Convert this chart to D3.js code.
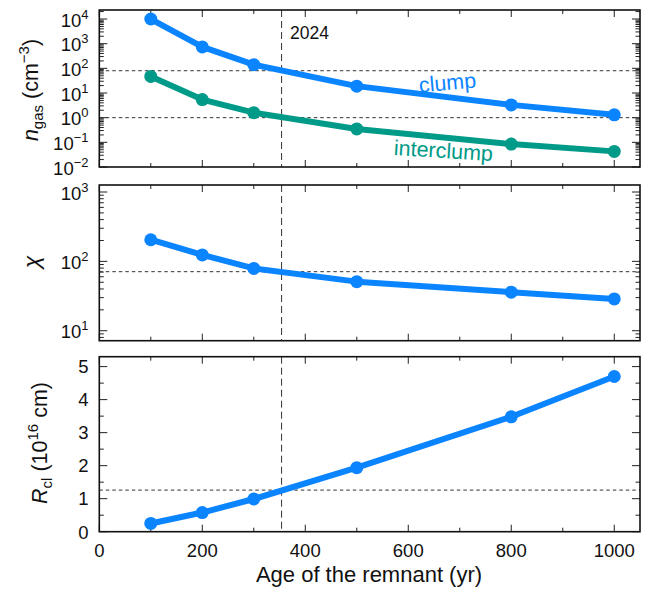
<!DOCTYPE html>
<html><head><meta charset="utf-8">
<script src="https://cdn.jsdelivr.net/npm/d3@7"></script>
<style>
html,body{margin:0;padding:0;background:#fff;}
svg{display:block;font-family:"Liberation Sans",Arial,Helvetica,sans-serif;}
</style></head>
<body><svg id="c" width="654" height="591"></svg>
<script>
// ---- data ----
const ages = [100, 200, 300, 500, 800, 1000];
const nClump = [1e4, 740, 141, 19, 3.3, 1.3];
const nInter = [47, 5.4, 1.6, 0.35, 0.085, 0.043];
const chiVals = [205, 124, 79, 51, 36, 28.7];
const rclVals = [0.25, 0.58, 0.99, 1.94, 3.48, 4.7];
const refN = [80, 1.0];
const refChi = [71];
const refR = [1.26];
const epochAge = 354;
const epochLabel = "2024";
const xTicks = [0, 200, 400, 600, 800, 1000];
const rTicks = [0, 1, 2, 3, 4, 5];
const nDecades = [-2, -1, 0, 1, 2, 3, 4];
const chiDecades = [1, 2, 3];

const BLUE = "#0a84ff", TEAL = "#009a88";
const svg = d3.select("#c");
const L = 99.3, R = 640;
const x = d3.scaleLinear().domain([0, 1050]).range([L, R]);

const panels = [
  {y: d3.scaleLog().domain([0.01, 23200]).range([167, 10]), top: 10, bot: 167, log: true, decades: nDecades},
  {y: d3.scaleLog().domain([7.18, 1262]).range([340.7, 185]), top: 185, bot: 340.7, log: true, decades: chiDecades},
  {y: d3.scaleLinear().domain([0, 5.3]).range([531.7, 356.7]), top: 356.7, bot: 531.7, log: false}
];

function frame(p) {
  const g = svg.append("g");
  const xs = d3.range(0, 1050, 100);
  xs.forEach(v => {
    const len = v % 200 === 0 ? 7 : 4;
    g.append("line").attr("x1", x(v)).attr("x2", x(v)).attr("y1", p.bot).attr("y2", p.bot - len).attr("stroke", "#222").attr("stroke-width", 1);
    g.append("line").attr("x1", x(v)).attr("x2", x(v)).attr("y1", p.top).attr("y2", p.top + len).attr("stroke", "#222").attr("stroke-width", 1);
  });
  const yt = [];
  if (p.log) {
    const [d0, d1] = p.y.domain();
    for (let e = Math.floor(Math.log10(d0)); e <= Math.ceil(Math.log10(d1)); e++) {
      for (let m = 1; m <= 9; m++) {
        const v = m * Math.pow(10, e);
        if (v >= d0 * 0.999 && v <= d1) yt.push({v, major: m === 1});
      }
    }
  } else {
    for (let v = 0; v <= 5.0001; v += 0.5) yt.push({v, major: Math.abs(v - Math.round(v)) < 1e-6});
  }
  yt.forEach(t => {
    const len = t.major ? 8 : 4.5;
    const yy = p.y(t.v);
    g.append("line").attr("x1", L).attr("x2", L + len).attr("y1", yy).attr("y2", yy).attr("stroke", "#222").attr("stroke-width", 1);
    g.append("line").attr("x1", R).attr("x2", R - len).attr("y1", yy).attr("y2", yy).attr("stroke", "#222").attr("stroke-width", 1);
  });
  return g;
}

function refLines(p, vals) {
  vals.forEach(v => {
    svg.append("line").attr("x1", L).attr("x2", R).attr("y1", p.y(v)).attr("y2", p.y(v))
      .attr("stroke", "#333").attr("stroke-width", 1).attr("stroke-dasharray", "3.5,3");
  });
  svg.append("line").attr("x1", x(epochAge)).attr("x2", x(epochAge)).attr("y1", p.top).attr("y2", p.bot)
    .attr("stroke", "#333").attr("stroke-width", 1).attr("stroke-dasharray", "7,4");
}

function series(p, vals, color) {
  const pts = ages.map((a, i) => [a, vals[i]]);
  svg.append("path").datum(pts)
    .attr("d", d3.line().x(d => x(d[0])).y(d => p.y(d[1])))
    .attr("fill", "none").attr("stroke", color).attr("stroke-width", 6).attr("stroke-linejoin", "round");
  svg.append("g").selectAll("circle").data(pts).join("circle")
    .attr("cx", d => x(d[0])).attr("cy", d => p.y(d[1])).attr("r", 6.5).attr("fill", color);
}

function border(p) {
  svg.append("rect").attr("x", L).attr("y", p.top).attr("width", R - L).attr("height", p.bot - p.top)
    .attr("fill", "none").attr("stroke", "#111").attr("stroke-width", 1.6);
}

function logLabels(p) {
  p.decades.forEach(e => {
    const t = svg.append("text").attr("x", 88.5).attr("y", p.y(Math.pow(10, e)) + 7.5)
      .attr("text-anchor", "end").attr("font-size", 18.5).attr("fill", "#111");
    t.append("tspan").text("10");
    t.append("tspan").attr("dy", -7.8).attr("font-size", 13).text(e < 0 ? "\u2212" + (-e) : String(e));
  });
}

// panel 1
const p1 = panels[0];
frame(p1); refLines(p1, refN);
series(p1, nInter, TEAL); series(p1, nClump, BLUE);
border(p1); logLabels(p1);
svg.append("text").attr("x", 290).attr("y", 39).attr("font-size", 17.5).attr("fill", "#111").text(epochLabel);
svg.append("text").attr("transform", "translate(448,90) rotate(-5)").attr("text-anchor", "middle")
  .attr("font-size", 21.5).attr("fill", BLUE).text("clump");
svg.append("text").attr("transform", "translate(443,158) rotate(3.5)").attr("text-anchor", "middle")
  .attr("font-size", 21.5).attr("fill", TEAL).text("interclump");

// panel 2
const p2 = panels[1];
frame(p2); refLines(p2, refChi);
series(p2, chiVals, BLUE);
border(p2); logLabels(p2);

// panel 3
const p3 = panels[2];
frame(p3); refLines(p3, refR);
series(p3, rclVals, BLUE);
border(p3);
rTicks.forEach(v => {
  svg.append("text").attr("x", 88.5).attr("y", p3.y(v) + 6.8).attr("text-anchor", "end")
    .attr("font-size", 18.5).attr("fill", "#111").text(v);
});
xTicks.forEach(v => {
  svg.append("text").attr("x", x(v)).attr("y", 556.5).attr("text-anchor", "middle")
    .attr("font-size", 18.5).attr("fill", "#111").text(v);
});

// axis titles
svg.append("text").attr("x", 369).attr("y", 582).attr("text-anchor", "middle")
  .attr("font-size", 22).attr("fill", "#111").text("Age of the remnant (yr)");

const t1 = svg.append("text").attr("transform", "translate(38,90) rotate(-90)").attr("text-anchor", "middle")
  .attr("font-size", 21.5).attr("fill", "#111");
t1.append("tspan").attr("font-style", "italic").text("n");
t1.append("tspan").attr("dy", 5).attr("font-size", 15).text("gas");
t1.append("tspan").attr("dy", -5).text(" (cm");
t1.append("tspan").attr("dy", -9).attr("font-size", 15).text("\u22123");
t1.append("tspan").attr("dy", 9).text(")");

svg.append("text").attr("transform", "translate(39,262) rotate(-90)").attr("text-anchor", "middle")
  .attr("font-size", 23).attr("font-style", "italic").attr("fill", "#111").text("\u03c7");

const t3 = svg.append("text").attr("transform", "translate(47,443) rotate(-90)").attr("text-anchor", "middle")
  .attr("font-size", 21.5).attr("fill", "#111");
t3.append("tspan").attr("font-style", "italic").text("R");
t3.append("tspan").attr("dy", 5).attr("font-size", 15).text("cl");
t3.append("tspan").attr("dy", -5).text(" (10");
t3.append("tspan").attr("dy", -9).attr("font-size", 15).text("16");
t3.append("tspan").attr("dy", 9).text(" cm)");
</script></body></html>
